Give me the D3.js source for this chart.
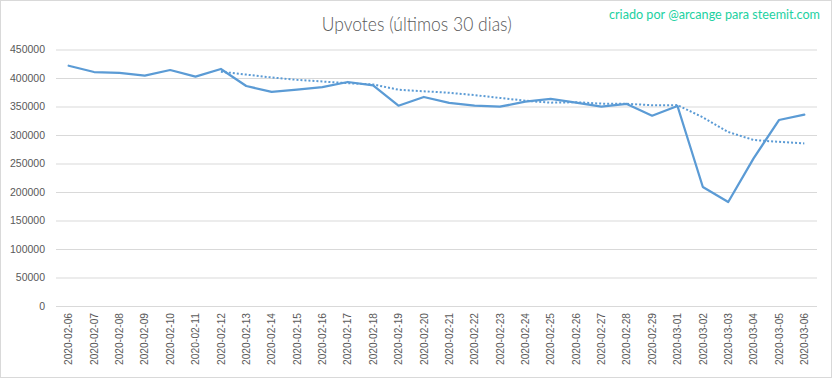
<!DOCTYPE html>
<html>
<head>
<meta charset="utf-8">
<script src="https://cdn.jsdelivr.net/npm/d3@7"></script>
<style>
  html, body { margin: 0; padding: 0; background: #fff; }
  svg { display: block; }
</style>
</head>
<body>
<svg id="chart" width="832" height="379"></svg>
<script>
const titleText = "Upvotes (últimos 30 dias)";
const creditText = "criado por @arcange para steemit.com";
const dates = [
  "2020-02-06","2020-02-07","2020-02-08","2020-02-09","2020-02-10","2020-02-11",
  "2020-02-12","2020-02-13","2020-02-14","2020-02-15","2020-02-16","2020-02-17",
  "2020-02-18","2020-02-19","2020-02-20","2020-02-21","2020-02-22","2020-02-23",
  "2020-02-24","2020-02-25","2020-02-26","2020-02-27","2020-02-28","2020-02-29",
  "2020-03-01","2020-03-02","2020-03-03","2020-03-04","2020-03-05","2020-03-06"
];
const upvotes = [
  421500, 410500, 409000, 404000, 414000, 402300,
  415800, 386000, 375500, 379500, 384000, 393000,
  387000, 351400, 366700, 356500, 351400, 349600,
  358400, 363200, 356700, 349600, 354400, 333800,
  350900, 208800, 182500, 259000, 326300, 335600
];
const yTicks = [0, 50000, 100000, 150000, 200000, 250000, 300000, 350000, 400000, 450000];
const trendPeriod = 7;

(function () {
const svg = d3.select("#chart");
const W = 832, H = 379;
const pLeft = 56, pRight = 817, pTop = 49.5, pBottom = 306;
const lineColor = "#5B9BD5";
const textColor = "#595959";
const gridColor = "#D9D9D9";

svg.append("rect").attr("x", 0.5).attr("y", 0.5).attr("width", W - 1).attr("height", H - 2)
  .attr("fill", "#fff").attr("stroke", gridColor).attr("stroke-width", 1);

const x = d3.scaleBand().domain(dates).range([pLeft, pRight]);
const y = d3.scaleLinear().domain([0, 450000]).range([pBottom, pTop]);

const yAxis = svg.append("g")
  .attr("transform", `translate(${pLeft},0)`)
  .call(d3.axisLeft(y).tickValues(yTicks).tickFormat(d3.format("d"))
        .tickSize(-(pRight - pLeft)).tickPadding(11));
yAxis.select(".domain").remove();
yAxis.selectAll("line").attr("stroke", gridColor).attr("stroke-width", 1);
yAxis.selectAll("text").attr("fill", textColor)
  .style("font-family", "'Liberation Sans', Arial, sans-serif").style("font-size", "10.5px");

const xAxis = svg.append("g")
  .attr("transform", `translate(0,${pBottom})`)
  .call(d3.axisBottom(x).tickSize(0).tickPadding(0));
xAxis.select(".domain").remove();
xAxis.selectAll("text")
  .attr("fill", textColor)
  .style("font-family", "'Liberation Sans', Arial, sans-serif").style("font-size", "10.5px")
  .attr("transform", "rotate(-90)")
  .attr("text-anchor", "end")
  .attr("x", -7).attr("y", 0).attr("dy", "0.35em")
  .attr("textLength", 52).attr("lengthAdjust", "spacingAndGlyphs");

const pts = dates.map((d, i) => ({ d, v: upvotes[i] }));
const line = d3.line().x(p => x(p.d) + x.bandwidth() / 2).y(p => y(p.v));
svg.append("path").datum(pts)
  .attr("fill", "none").attr("stroke", lineColor).attr("stroke-width", 2.25)
  .attr("stroke-linejoin", "round").attr("stroke-linecap", "round")
  .attr("d", line);

const trend = pts.slice(trendPeriod - 1).map((p, k) => ({
  d: p.d,
  v: d3.mean(upvotes.slice(k, k + trendPeriod))
}));
svg.append("path").datum(trend)
  .attr("fill", "none").attr("stroke", lineColor).attr("stroke-width", 2)
  .attr("stroke-dasharray", "2,2")
  .attr("d", line);

svg.append("text")
  .attr("x", 416.7).attr("y", 30.5).attr("text-anchor", "middle")
  .attr("fill", textColor)
  .style("font-family", "Lato, 'Open Sans', sans-serif").style("font-weight", 300)
  .style("font-size", "19.5px")
  .attr("textLength", 190).attr("lengthAdjust", "spacingAndGlyphs")
  .text(titleText);

svg.append("text")
  .attr("x", 820).attr("y", 19).attr("text-anchor", "end")
  .attr("fill", "#1DD1A1")
  .style("font-family", "Lato, 'Open Sans', sans-serif")
  .style("font-size", "12.5px")
  .attr("textLength", 211).attr("lengthAdjust", "spacingAndGlyphs")
  .text(creditText);
})();
</script>
</body>
</html>
